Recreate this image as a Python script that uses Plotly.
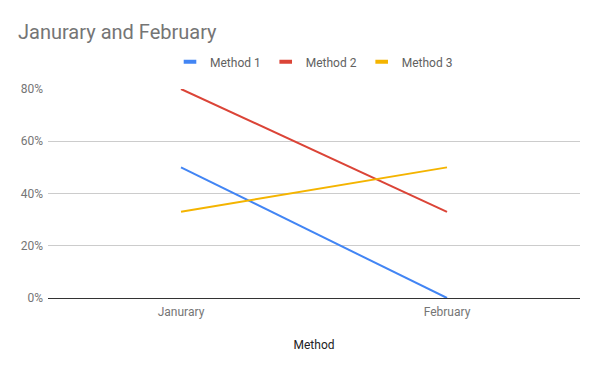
import plotly.graph_objects as go

categories = ["Janurary", "February"]
method1 = [0.50, 0.00]
method2 = [0.80, 0.33]
method3 = [0.33, 0.50]
series_names = ["Method 1", "Method 2", "Method 3"]
colors = ["#4285f4", "#db4437", "#f4b400"]

fig = go.Figure()
for name, vals, c in zip(series_names, [method1, method2, method3], colors):
    fig.add_trace(go.Scatter(x=categories, y=vals, mode="lines", name=name,
                             line=dict(color=c, width=2), showlegend=False))
for name, c in zip(series_names, colors):
    fig.add_trace(go.Scatter(x=[None], y=[None], mode="markers", name=name,
                             marker=dict(symbol="line-ew", size=9, color=c,
                                         line=dict(width=4, color=c))))

fig.update_layout(
    width=600, height=371,
    paper_bgcolor="white", plot_bgcolor="white",
    font=dict(family="Roboto", size=12, color="#757575"),
    title=dict(text="Janurary and February", x=0.03, xanchor="left", y=0.915, yanchor="middle",
               font=dict(size=20, color="#757575")),
    margin=dict(l=48, r=20, t=89, b=73),
    legend=dict(orientation="h", x=0.5, xanchor="center", y=1.13, yanchor="middle",
                font=dict(size=12, color="#616161"), itemwidth=30),
    xaxis=dict(range=[-0.5, 1.5], showgrid=False, showline=False, ticks="",
               title=dict(text="Method", font=dict(size=12, color="#222222"), standoff=22),
               tickfont=dict(color="#757575"), ticklabelstandoff=5),
    yaxis=dict(range=[0, 0.8], dtick=0.2, tickformat=".0%", gridcolor="#cccccc",
               zeroline=True, zerolinecolor="#333333", zerolinewidth=1,
               showline=False, ticks="", tickfont=dict(color="#757575"),
               ticklabelstandoff=4),
)

fig.write_html("out.html", config={"displayModeBar": False},
               post_script="document.body.style.margin='0';")
